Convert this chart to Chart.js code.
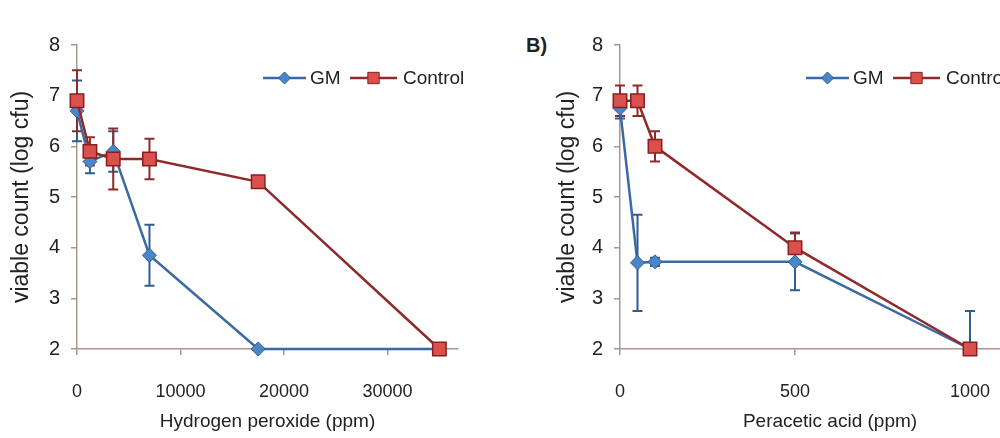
<!DOCTYPE html>
<html>
<head>
<meta charset="utf-8">
<script src="https://cdn.jsdelivr.net/npm/chart.js@4.4.0/dist/chart.umd.min.js"></script>
<style>
  html, body { margin: 0; padding: 0; background: #fff; width: 1000px; height: 438px; overflow: hidden; position: relative; }
  .panel { position: absolute; top: 0; height: 438px; }
  #panelA { left: 0; width: 500px; }
  #panelB { left: 540px; width: 520px; }
  #labelB { position: absolute; left: 526px; top: 34px; font: bold 20px 'Liberation Sans', Arial, sans-serif; color: #222; }
</style>
</head>
<body>
<div class="panel" id="panelA"><canvas id="chartA" width="500" height="438"></canvas></div>
<div id="labelB">B)</div>
<div class="panel" id="panelB"><canvas id="chartB" width="520" height="438"></canvas></div>
<script>
// A) 過酸化水素
const h2o2Dose = [0, 1250, 3500, 7000, 17500, 35000];
const h2o2GM = [6.7, 5.7, 5.9, 3.85, 2.0, 2.0];
const h2o2GMErr = [0.6, 0.23, 0.4, 0.6, 0, 0];
const h2o2Control = [6.9, 5.9, 5.75, 5.75, 5.3, 2.0];
const h2o2ControlErr = [0.6, 0.28, 0.6, 0.4, 0, 0];
const h2o2Ticks = [0, 10000, 20000, 30000];
const h2o2TickLabels = ['0', '10000', '20000', '30000'];

// B) 過酢酸
const pafDose = [0, 50, 100, 500, 1000];
const pafGM = [6.75, 3.7, 3.72, 3.72, 2.0];
const pafGMErr = [0.2, 0.95, 0.08, 0.56, 0.75];
const pafControl = [6.9, 6.9, 6.0, 4.0, 2.0];
const pafControlErr = [0.3, 0.3, 0.3, 0.3, 0];
const pafTicks = [0, 500, 1000];
const pafTickLabels = ['0', '500', '1000'];

const yTicks = [2, 3, 4, 5, 6, 7, 8];
const seriesNames = ['GM', 'Control'];
const yTitle = 'viable count (log cfu)';

const AXIS = '#a8968f';
const TEXT = '#222';
const BLUE_LINE = '#3a6aa3';
const BLUE_FILL = '#4a87c8';
const RED_LINE = '#8e2a2a';
const RED_FILL = '#d9504d';
const SANS = "'Liberation Sans', Arial, sans-serif";

// エラーバー（スケール経由で描画）
const errorBars = {
    id: 'errorBars',
    beforeDatasetsDraw(chart) {
        const { ctx, chartArea, scales: { x, y } } = chart;
        ctx.save();
        ctx.beginPath();
        ctx.rect(chartArea.left - 10, 0, chartArea.width + 20, chartArea.bottom);
        ctx.clip();
        chart.data.datasets.forEach(ds => {
            ctx.strokeStyle = ds.errColor;
            ctx.lineWidth = 2;
            ds.data.forEach((p, i) => {
                const e = ds.err[i];
                if (!e) return;
                const px = x.getPixelForValue(p.x);
                const top = y.getPixelForValue(p.y + e);
                const bot = y.getPixelForValue(p.y - e);
                ctx.beginPath();
                ctx.moveTo(px, top); ctx.lineTo(px, bot);
                ctx.moveTo(px - 5, top); ctx.lineTo(px + 5, top);
                ctx.moveTo(px - 5, bot); ctx.lineTo(px + 5, bot);
                ctx.stroke();
            });
        });
        ctx.restore();
    }
};

// 線＋マーカーの凡例
const lineLegend = {
    id: 'lineLegend',
    afterDraw(chart) {
        const { ctx, chartArea } = chart;
        const ly = chartArea.top + 33;
        const slots = [
            { x0: 186, x1: 229, tx: 233, r: 6 },
            { x0: 273, x1: 320, tx: 326, r: 8 }
        ];
        ctx.save();
        chart.data.datasets.forEach((ds, i) => {
            const s = slots[i];
            const l = chartArea.left;
            ctx.strokeStyle = ds.borderColor;
            ctx.lineWidth = 2.5;
            ctx.beginPath();
            ctx.moveTo(l + s.x0, ly); ctx.lineTo(l + s.x1, ly);
            ctx.stroke();
            ctx.fillStyle = ds.backgroundColor;
            ctx.strokeStyle = ds.pointBorderColor;
            ctx.lineWidth = 1;
            Chart.helpers.drawPoint(ctx, { pointStyle: ds.pointStyle, radius: s.r, borderWidth: 1, rotation: 0 }, l + (s.x0 + s.x1) / 2, ly);
            ctx.fillStyle = TEXT;
            ctx.font = `19px ${SANS}`;
            ctx.textBaseline = 'middle';
            ctx.fillText(ds.label, l + s.tx, ly + 1);
        });
        ctx.restore();
    }
};

function makeChart(id, p) {
    const tickFont = { family: SANS, size: 18 };
    return new Chart(document.getElementById(id), {
        type: 'line',
        data: {
            datasets: [
                {
                    label: seriesNames[0],
                    data: p.dose.map((x, i) => ({ x, y: p.gm[i] })),
                    err: p.gmErr,
                    errColor: '#2f5d90',
                    borderColor: BLUE_LINE,
                    backgroundColor: BLUE_FILL,
                    pointBorderColor: '#2f5d90',
                    pointStyle: 'rectRot',
                    pointRadius: 7,
                    pointBorderWidth: 1,
                    borderWidth: 2.5,
                    order: 1,
                    clip: false
                },
                {
                    label: seriesNames[1],
                    data: p.dose.map((x, i) => ({ x, y: p.control[i] })),
                    err: p.controlErr,
                    errColor: RED_LINE,
                    borderColor: RED_LINE,
                    backgroundColor: RED_FILL,
                    pointBorderColor: '#8a1f1f',
                    pointStyle: 'rect',
                    pointRadius: 9.5,
                    pointBorderWidth: 1.5,
                    borderWidth: 2.5,
                    order: 0,
                    clip: false
                }
            ]
        },
        options: {
            responsive: false,
            animation: false,
            events: [],
            layout: { padding: { left: 0, top: 45, right: p.padRight, bottom: 0 } },
            plugins: { legend: { display: false }, tooltip: { enabled: false } },
            scales: {
                x: {
                    type: 'linear',
                    min: 0,
                    max: p.xMax,
                    afterBuildTicks: s => { s.ticks = p.ticks.map(v => ({ value: v })); },
                    afterFit: s => { s.height = 89; },
                    grid: { drawOnChartArea: false, drawTicks: true, tickLength: 6, color: AXIS, lineWidth: 1.5 },
                    border: { color: AXIS, width: 1.5 },
                    ticks: { autoSkip: false, maxRotation: 0, padding: 26, font: tickFont, color: TEXT, callback: (v, i) => p.tickLabels[i] },
                    title: { display: true, text: p.xTitle, font: { family: SANS, size: 19 }, color: TEXT, padding: { top: 0, bottom: 5 } }
                },
                y: {
                    min: 2,
                    max: 8,
                    afterBuildTicks: s => { s.ticks = yTicks.map(v => ({ value: v })); },
                    afterFit: s => { s.width = p.yWidth; },
                    grid: { drawOnChartArea: false, drawTicks: true, tickLength: 6, color: AXIS, lineWidth: 1.5 },
                    border: { color: AXIS, width: 1.5 },
                    ticks: { padding: 11, font: { family: SANS, size: 20 }, color: TEXT, callback: v => String(v) },
                    title: { display: true, text: yTitle, font: { family: SANS, size: 23 }, color: TEXT, padding: { top: p.yTitlePad, bottom: 0 } }
                }
            }
        },
        plugins: [errorBars, lineLegend]
    });
}

makeChart('chartA', {
    dose: h2o2Dose, gm: h2o2GM, gmErr: h2o2GMErr, control: h2o2Control, controlErr: h2o2ControlErr,
    ticks: h2o2Ticks, tickLabels: h2o2TickLabels, xMax: 36800, padRight: 42, yWidth: 77, yTitlePad: 8,
    xTitle: 'Hydrogen peroxide (ppm)'
});
makeChart('chartB', {
    dose: pafDose, gm: pafGM, gmErr: pafGMErr, control: pafControl, controlErr: pafControlErr,
    ticks: pafTicks, tickLabels: pafTickLabels, xMax: 1200, padRight: 20, yWidth: 80, yTitlePad: 14,
    xTitle: 'Peracetic acid (ppm)'
});
</script>
</body>
</html>
